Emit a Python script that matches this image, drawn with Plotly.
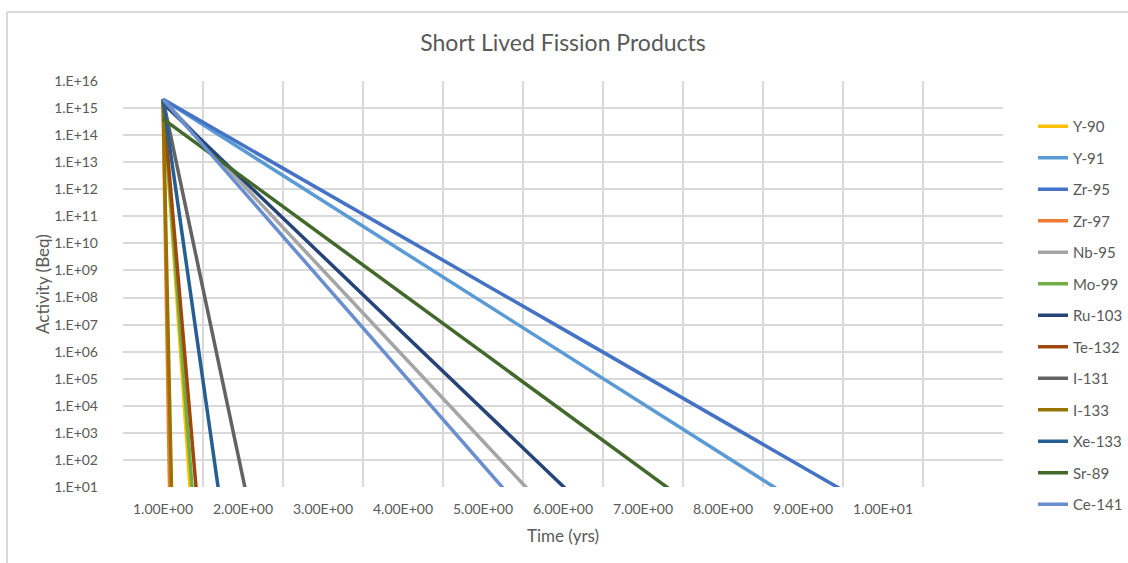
import plotly.graph_objects as go

# Time axis (yrs)
years = [1, 2, 3, 4, 5, 6, 7, 8, 9, 10, 11]
year_labels = ["1.00E+00", "2.00E+00", "3.00E+00", "4.00E+00", "5.00E+00",
               "6.00E+00", "7.00E+00", "8.00E+00", "9.00E+00", "1.00E+01", ""]

# Activity (Beq) of each nuclide at each time point
y90 = [2.1e15, 6.8e-28, 2.1e-70, 6.8e-113, 2.1e-155, 6.8e-198, 2.1e-240, 6.8e-283, None, None, None]
y91 = [2.1e15, 2.8e13, 3.8e11, 5.0e9, 6.7e7, 8.9e5, 1.2e4, 158, 2.1, 2.8e-2, 3.7e-4]
zr95 = [2.1e15, 4.3e13, 8.5e11, 1.7e10, 3.4e8, 6.8e6, 1.35e5, 2.7e3, 53.7, 1.07, 2.1e-2]
zr97 = [2.1e15, 2.1e-161, None, None, None, None, None, None, None, None, None]
nb95 = [2.1e15, 1.5e12, 1.0e9, 7.1e5, 490, 0.34, 2.3e-4, 1.6e-7, 1.1e-10, 7.8e-14, 5.4e-17]
mo99 = [2.1e15, 6.8e-25, 2.1e-64, 6.8e-104, 2.1e-143, 6.8e-183, 2.1e-222, 6.8e-262, 2.1e-301, None, None]
ru103 = [1.5e15, 2.2e12, 3.3e9, 4.9e6, 7.2e3, 10.7, 1.6e-2, 2.3e-5, 3.5e-8, 5.1e-11, 7.6e-14]
te132 = [2.1e15, 4.3e-20, 8.5e-55, 1.7e-89, 3.4e-124, 6.8e-159, 1.3e-193, 2.7e-228, 5.4e-263, 1.1e-297, None]
i131 = [2.1e15, 21.4, 2.1e-13, 2.1e-27, 2.1e-41, 2.1e-55, 2.1e-69, 2.1e-83, 2.1e-97, 2.1e-111, 2.1e-125]
i133 = [2.1e15, 2.1e-120, 2.1e-255, None, None, None, None, None, None, None, None]
xe133 = [2.1e15, 3.4e-6, 5.4e-27, 8.5e-48, 1.3e-68, 2.1e-89, 3.4e-110, 5.4e-131, 8.5e-152, 1.3e-172, 2.1e-193]
sr89 = [4.0e14, 2.8e12, 1.9e10, 1.3e8, 9.1e5, 6.3e3, 43.7, 0.30, 2.1e-3, 1.4e-5, 1.0e-7]
ce141 = [2.1e15, 8.9e11, 3.7e8, 1.55e5, 64.6, 2.7e-2, 1.1e-5, 4.7e-9, 1.95e-12, 8.1e-16, 3.4e-19]

series = [
    ("Y-90", y90, "#FFC000"),
    ("Y-91", y91, "#5B9BD5"),
    ("Zr-95", zr95, "#4472C4"),
    ("Zr-97", zr97, "#ED7D31"),
    ("Nb-95", nb95, "#A5A5A5"),
    ("Mo-99", mo99, "#70AD47"),
    ("Ru-103", ru103, "#264478"),
    ("Te-132", te132, "#9E480E"),
    ("I-131", i131, "#636363"),
    ("I-133", i133, "#997300"),
    ("Xe-133", xe133, "#255E91"),
    ("Sr-89", sr89, "#43682B"),
    ("Ce-141", ce141, "#698ED0"),
]

decades = list(range(1, 17))
decade_labels = ["1.E+%02d" % d for d in decades]

FONT = "Lato, 'Open Sans', sans-serif"
TEXT = "#595959"
GRID = "#D9D9D9"

fig = go.Figure()
for name, vals, color in series:
    fig.add_trace(go.Scatter(
        x=years, y=vals, name=name, mode="lines",
        line=dict(color=color, width=3.5),
        legendgroup=name, connectgaps=False,
    ))

fig.update_layout(
    width=1128, height=563,
    margin=dict(l=123, r=125, t=81, b=76, autoexpand=False),
    paper_bgcolor="white", plot_bgcolor="white",
    font=dict(family=FONT, color=TEXT, size=14),
    title=dict(text="Short Lived Fission Products", x=0.5, xanchor="center",
               y=1 - 43 / 563, yanchor="middle", xref="paper",
               font=dict(size=23, color=TEXT, family=FONT)),
    showlegend=True,
    legend=dict(x=(1033 - 123) / 880, xanchor="left",
                yref="container", y=1 - 110 / 563, yanchor="top",
                maxheight=450,
                font=dict(size=15, color=TEXT, family=FONT),
                tracegroupgap=9, bgcolor="rgba(0,0,0,0)"),
    xaxis=dict(
        range=[0.5, 11.5], tickmode="array", tickvals=years, ticktext=year_labels,
        showgrid=False, zeroline=False, showline=False, ticks="",
        ticklabelstandoff=12,
        tickfont=dict(size=14, color=TEXT),
        minor=dict(tickmode="array",
                   tickvals=[v - 0.5 for v in years] + [years[-1] + 0.5],
                   showgrid=True, gridcolor=GRID, gridwidth=1.5, ticks=""),
        title=dict(text="Time (yrs)", font=dict(size=17, color=TEXT), standoff=14),
    ),
    yaxis=dict(
        type="log", range=[1, 16], tickmode="array",
        tickvals=[10 ** d for d in decades], ticktext=decade_labels,
        showgrid=True, gridcolor=GRID, gridwidth=1.5, zeroline=False,
        showline=False, ticks="", ticklabelstandoff=24,
        tickfont=dict(size=14, color=TEXT),
        title=dict(text="Activity (Beq)", font=dict(size=17, color=TEXT), standoff=0),
    ),
)

# chart-area border on the top and left
fig.add_shape(type="line", xref="paper", yref="paper",
              x0=(7 - 123) / 880, x1=(1128 - 123) / 880,
              y0=(487 - 12) / 406, y1=(487 - 12) / 406,
              line=dict(color=GRID, width=2))
fig.add_shape(type="line", xref="paper", yref="paper",
              x0=(7 - 123) / 880, x1=(7 - 123) / 880,
              y0=(487 - 12) / 406, y1=(487 - 563) / 406,
              line=dict(color=GRID, width=2))

fig.write_html("out.html")
